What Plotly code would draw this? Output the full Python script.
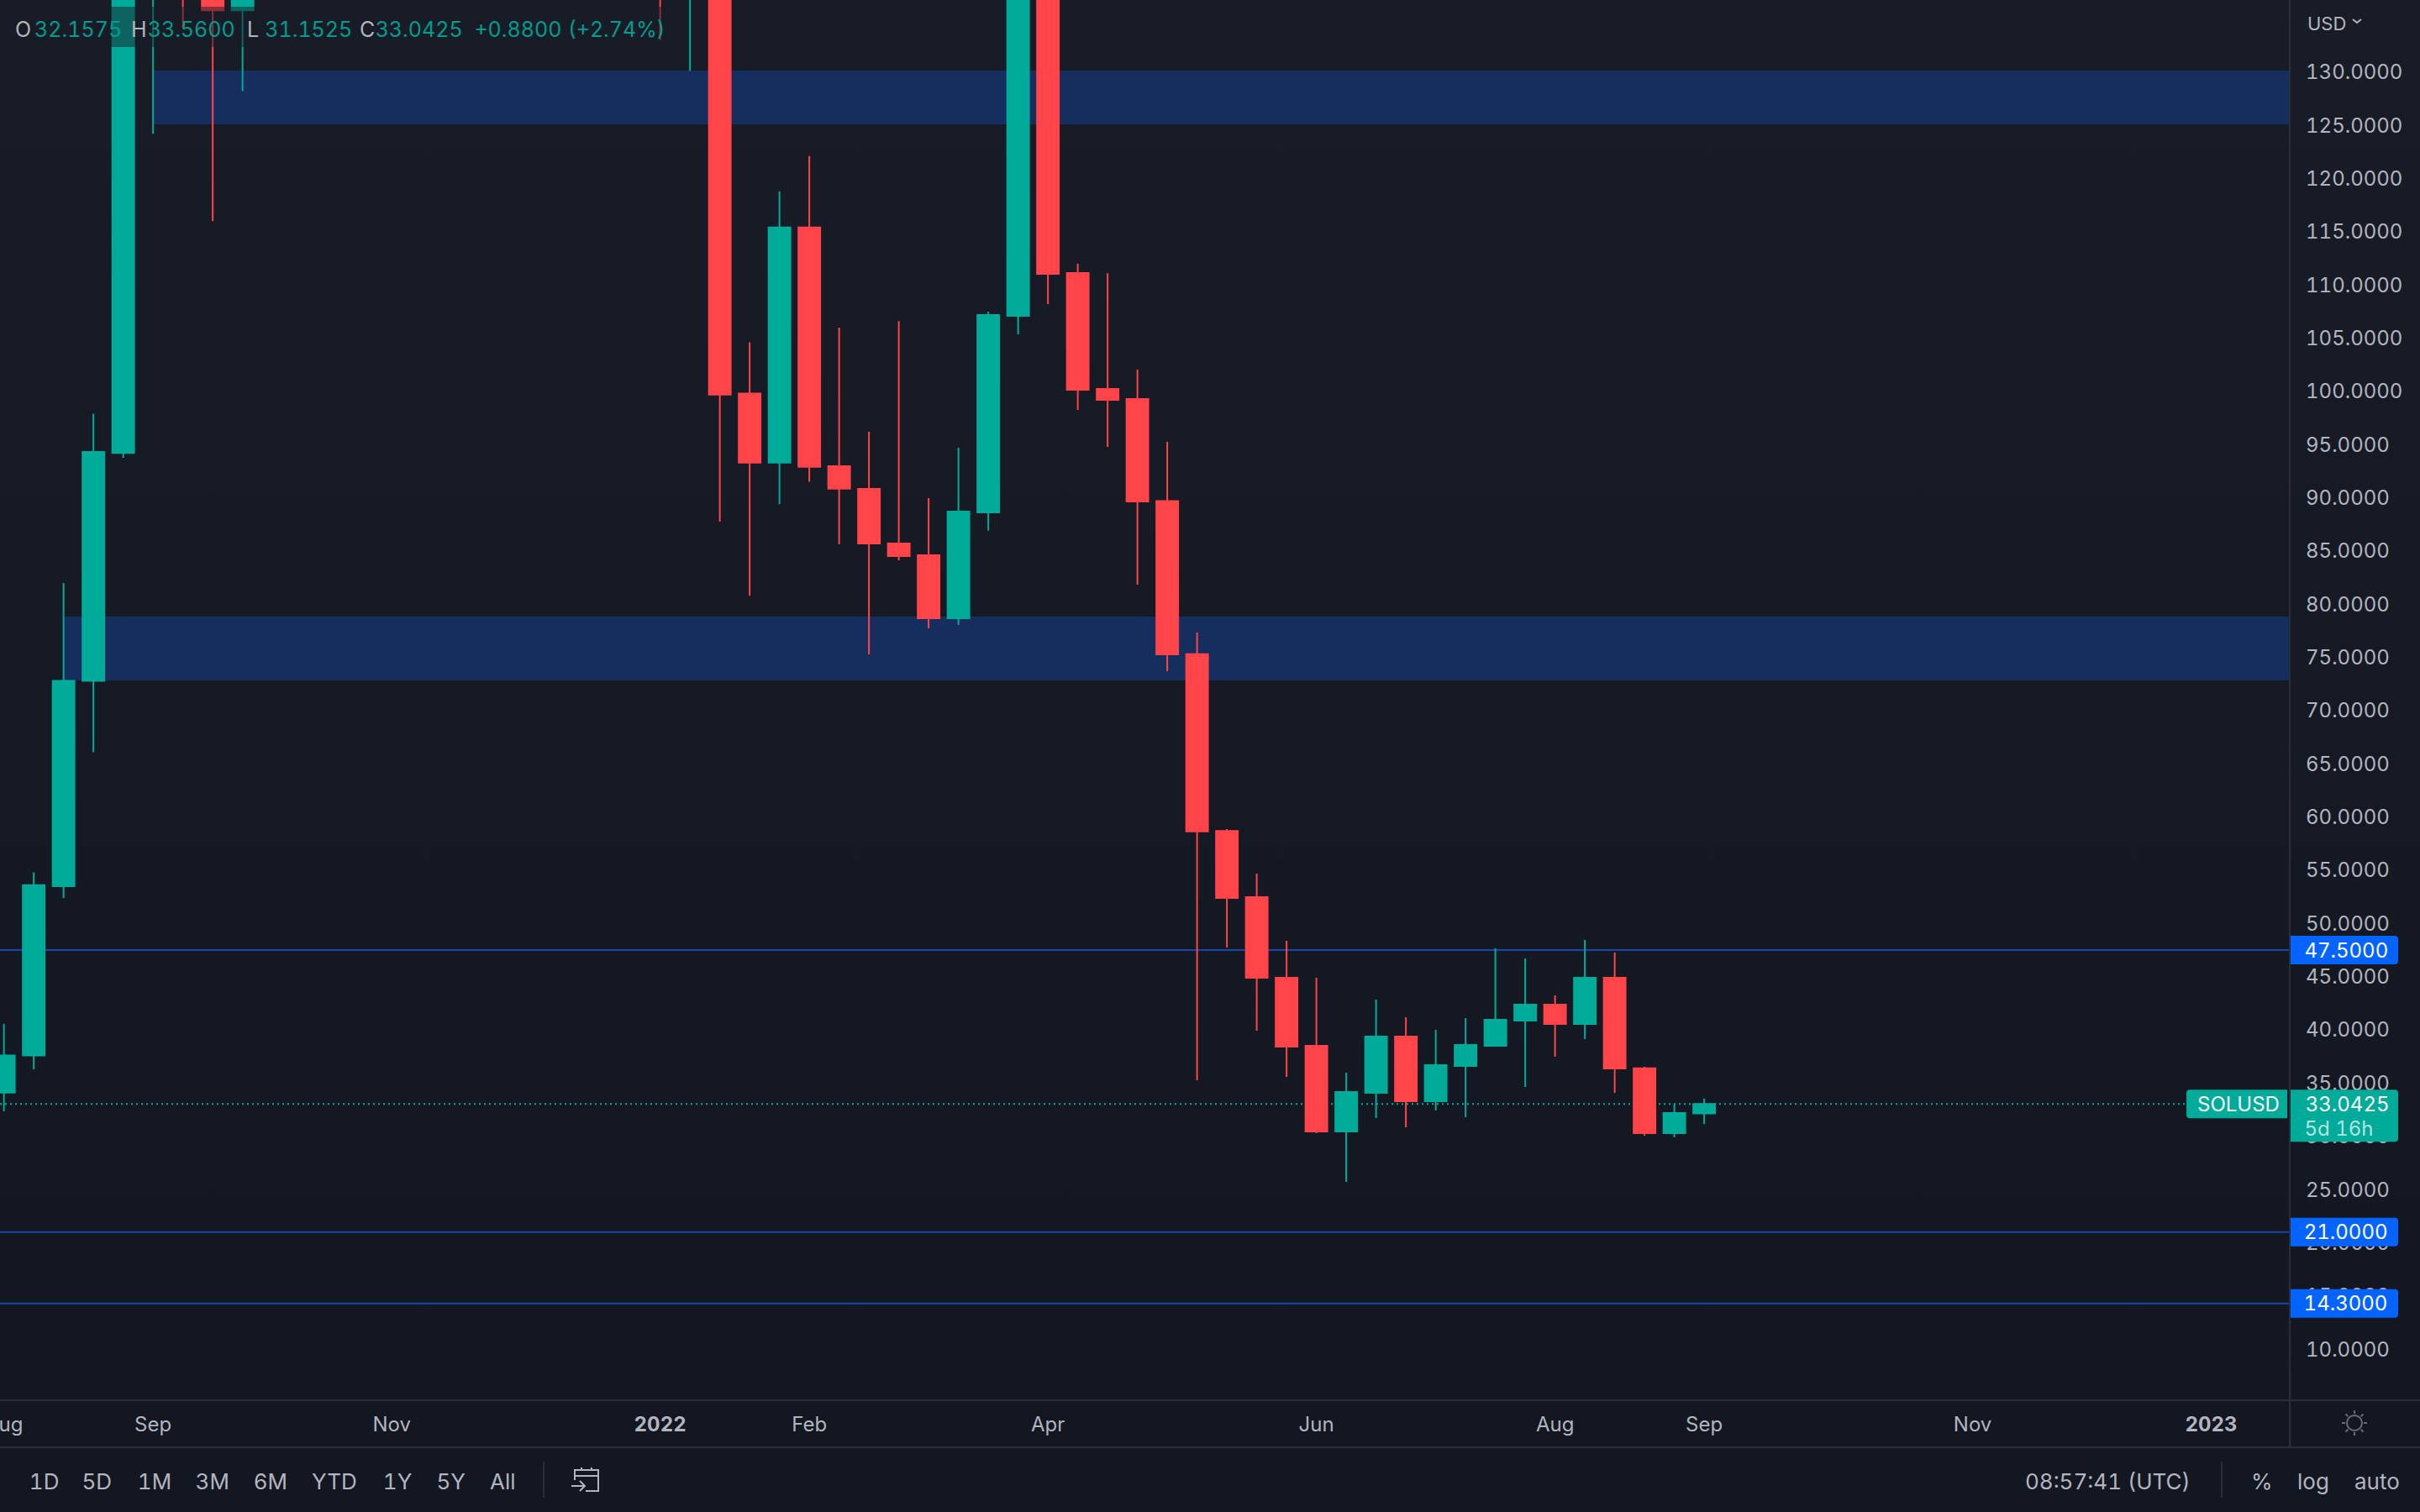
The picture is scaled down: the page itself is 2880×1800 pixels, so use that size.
import pandas as pd
import plotly.graph_objects as go

# ---------- data ----------
week_start = "2021-07-26"
n_weeks = 58
opens = [34.1, 37.6, 53.5, 72.8, 94.2, 142, 197, 170, 135.8, 160, 165, 158, 160, 190, 205, 240, 225, 205, 215, 190,
         180, 185, 172, 170, 176, 99.8, 93.3, 115.4, 92.96, 90.83, 85.7, 84.6, 78.68, 88.62, 107.1, 141, 111.12,
         100.22, 99.28, 89.7, 75.3, 58.7, 52.47, 44.9, 38.5, 30.45, 34.08, 39.37, 33.3, 36.61, 38.5, 40.87, 42.37,
         40.55, 44.9, 36.4, 30.3, 32.1575]
highs = [40.55, 54.8, 82.0, 97.9, 146, 216, 205, 190, 175, 176, 178, 172, 196, 218, 250, 260, 245, 240, 225, 210,
         200, 205, 190, 182, 178, 104.6, 118.8, 122.1, 105.98, 96.2, 106.6, 89.96, 94.7, 107.48, 144, 143, 111.98,
         111.1, 102.04, 95.25, 77.33, 58.87, 54.68, 48.37, 44.9, 35.98, 42.84, 41.19, 40.0, 41.11, 47.66, 46.71,
         43.24, 48.45, 47.26, 36.53, 33.06, 33.56]
lows = [32.35, 36.3, 52.4, 66.1, 93.75, 124.2, 134.2, 116.0, 128.2, 140, 150, 148, 155, 185, 195, 205, 190, 190, 165,
        170, 160, 165, 133, 130.1, 87.75, 80.8, 89.4, 91.5, 85.62, 75.28, 84.12, 77.73, 78.04, 86.9, 105.35, 108.2,
        98.25, 94.78, 81.83, 73.7, 35.27, 47.74, 39.92, 35.58, 30.3, 25.72, 31.71, 30.85, 32.43, 31.8, 38.45, 34.63,
        37.48, 39.13, 34.08, 30.06, 29.9, 31.1525]
closes = [37.6, 53.6, 72.8, 94.3, 142, 197, 170, 135.8, 160, 165, 158, 160, 190, 205, 240, 225, 205, 215, 190, 180,
          185, 172, 170, 176, 99.7, 93.3, 115.4, 92.9, 90.85, 85.7, 84.52, 78.68, 88.7, 107.17, 141, 111.04, 100.14,
          99.2, 89.65, 75.28, 58.65, 52.39, 44.9, 38.42, 30.45, 34.16, 39.37, 33.3, 36.69, 38.58, 40.95, 42.37, 40.55,
          44.9, 36.37, 30.3, 32.19, 33.0425]

x_tick_dates = ["2021-07-26", "2021-08-30", "2021-10-25", "2021-12-27", "2022-01-31", "2022-03-28", "2022-05-30",
                "2022-07-25", "2022-08-29", "2022-10-31", "2022-12-26"]
x_tick_labels = ["Aug", "Sep", "Nov", "<b>2022</b>", "Feb", "Apr", "Jun", "Aug", "Sep", "Nov", "<b>2023</b>"]
y_tick_values = list(range(10, 135, 5))
y_tick_labels = [f"{v:.4f}" for v in y_tick_values]

zone_upper = ("2021-08-30", 125.08, 130.14)
zone_lower = ("2021-08-09", 72.83, 78.83)
levels = [47.5, 21.0, 14.3]
last_price = 33.0425

legend_parts = [("O", 17, "k"), ("32.1575", 47, "v"), ("H", 155, "k"), ("33.5600", 177, "v"), ("L", 293, "k"),
                ("31.1525", 323, "v"), ("C", 427, "k"), ("33.0425", 448, "v"), ("+0.8800", 565, "v"),
                ("(+2.74%)", 678, "v")]
range_buttons = [("1D", 52), ("5D", 116), ("1M", 184), ("3M", 253), ("6M", 322), ("YTD", 398), ("1Y", 473),
                 ("5Y", 536), ("All", 598)]

# ---------- style ----------
W, H = 2725, 1667
Y_MIN, Y_MAX = 5.2, 136.77
X_RANGE = ["2021-07-25 02:00", "2023-01-13 10:00"]
GREEN, RED = "#00ab9a", "#ff444a"
BLUE_TAG, BLUE_LINE = "#0563ff", "#1a46ab"
ZONE = "#152e5e"
BORDER = "#2a2e39"
TEXT = "#b2b5be"
FONT = "Inter"
UNIT = H / (Y_MAX - Y_MIN)


def X(px):
    return px / W


def Y(py):
    return 1 - py / H


dates = pd.date_range(week_start, periods=n_weeks, freq="7D")

fig = go.Figure(go.Candlestick(
    x=dates, open=opens, high=highs, low=lows, close=closes,
    increasing=dict(line=dict(color=GREEN, width=2), fillcolor=GREEN),
    decreasing=dict(line=dict(color=RED, width=2), fillcolor=RED),
    whiskerwidth=0, showlegend=False, hoverinfo="skip",
))

shapes = []
for start, lo, hi in (zone_upper, zone_lower):
    shapes.append(dict(type="rect", xref="x", yref="y", x0=start, x1=X_RANGE[1], y0=lo, y1=hi,
                       fillcolor=ZONE, line=dict(width=0), layer="below"))
for lv in levels:
    shapes.append(dict(type="line", xref="paper", yref="y", x0=0, x1=1, y0=lv, y1=lv,
                       line=dict(color=BLUE_LINE, width=2), layer="below"))
shapes.append(dict(type="line", xref="paper", yref="y", x0=0, x1=X(2600), y0=last_price, y1=last_price,
                   line=dict(color=GREEN, width=2, dash="2px,4px"), layer="below"))
# legend strip, dims the candles behind the OHLC text
shapes.append(dict(type="rect", xref="paper", yref="paper", x0=X(8), x1=X(798), y0=Y(56), y1=Y(8),
                   fillcolor="rgba(23,27,38,0.5)", line=dict(width=0), layer="above"))


def tag(x0, x1, level, up, down, color, round_left=False, round_right=True):
    """Price-axis tag, located on the price scale by its level."""
    t, b = level + up / UNIT, level - down / UNIT
    xa, xb = X(x0), X(x1)
    r, ry = 4 / W, 4 / UNIT
    p = f"M{xa},{b}"
    if round_left:
        p = f"M{xa},{b + ry} L{xa},{t - ry} Q{xa},{t} {xa + r},{t}"
    else:
        p += f" L{xa},{t}"
    if round_right:
        p += f" L{xb - r},{t} Q{xb},{t} {xb},{t - ry} L{xb},{b + ry} Q{xb},{b} {xb - r},{b}"
    else:
        p += f" L{xb},{t} L{xb},{b}"
    if round_left:
        p += f" L{xa + r},{b} Q{xa},{b} {xa},{b + ry}"
    p += " Z"
    shapes.append(dict(type="path", path=p, xref="paper", yref="y", fillcolor=color,
                       line=dict(width=0), layer="above"))


for lv in levels:
    tag(2724, 2854, lv, 17, 17, BLUE_TAG)
tag(2724, 2854, last_price, 17, 45, GREEN)
tag(2602, 2722, last_price, 17, 17, GREEN, round_left=True, round_right=False)


def pline(x0, y0, x1, y1, color=BORDER, width=2):
    shapes.append(dict(type="line", xref="paper", yref="paper", x0=X(x0), x1=X(x1), y0=Y(y0), y1=Y(y1),
                       line=dict(color=color, width=width), layer="above"))


pline(0, 1667, 2880, 1667)
pline(0, 1723, 2880, 1723)
pline(2725, 0, 2725, 1723)
pline(647, 1740, 647, 1783)
pline(2644, 1740, 2644, 1783)


def ppath(points, color, width=2, close=False):
    p = "M" + " L".join(f"{X(a)},{Y(b)}" for a, b in points) + (" Z" if close else "")
    shapes.append(dict(type="path", path=p, xref="paper", yref="paper", line=dict(color=color, width=width),
                       layer="above"))


# USD chevron
ppath([(2800, 23), (2805, 27), (2810, 23)], TEXT)
# calendar icon
ppath([(684, 1762), (684, 1750), (712, 1750), (712, 1775), (697, 1775)], TEXT)
pline(684, 1757, 712, 1757, TEXT)
pline(692, 1747, 692, 1751, TEXT)
pline(704, 1747, 704, 1751, TEXT)
ppath([(680, 1769), (696, 1769)], TEXT)
ppath([(690, 1763), (696, 1769), (690, 1775)], TEXT)
# sun icon
SUN = "#6a6d78"
cx, cy = 2802, 1694
shapes.append(dict(type="circle", xref="paper", yref="paper", x0=X(cx - 9), x1=X(cx + 9), y0=Y(cy + 9), y1=Y(cy - 9),
                   line=dict(color=SUN, width=2), layer="above"))
for dx, dy in [(0, 1), (0, -1), (1, 0), (-1, 0), (.7, .7), (-.7, .7), (.7, -.7), (-.7, -.7)]:
    pline(cx + dx * 11, cy + dy * 11, cx + dx * 15, cy + dy * 15, SUN)


ann = []


def txt(s, px, py, size=24, color=TEXT, anchor="left"):
    ann.append(dict(text=s, xref="paper", yref="paper", x=X(px), y=Y(py), xanchor=anchor, yanchor="middle",
                    showarrow=False, borderpad=0, font=dict(family=FONT, size=size, color=color)))


for s, px, kind in legend_parts:
    txt(s, px, 35, 25, TEXT if kind == "k" else "#009d8f")
for s, px in range_buttons:
    txt(s, px, 1763, 26, TEXT, "center")
txt("08:57:41 (UTC)", 2508, 1763, 26, TEXT, "center")
txt("%", 2692, 1763, 26, TEXT, "center")
txt("log", 2753, 1763, 26, TEXT, "center")
txt("auto", 2829, 1763, 26, TEXT, "center")
txt("USD", 2745, 28, 22, TEXT)


def level_txt(s, px, level, dy=0, color="#ffffff"):
    ann.append(dict(text=s, xref="paper", yref="y", x=X(px), y=level, yshift=-dy, xanchor="left", yanchor="middle",
                    showarrow=False, borderpad=0, font=dict(family=FONT, size=24, color=color)))


for lv in levels:
    level_txt(f"{lv:.4f}", 2745, lv)
level_txt(f"{last_price:.4f}", 2745, last_price)
level_txt("5d 16h", 2745, last_price, 29, "rgba(255,255,255,0.7)")
level_txt("SOLUSD", 2614, last_price, 0)

fig.update_layout(
    width=2880, height=1800,
    margin=dict(l=0, r=2880 - W, t=0, b=1800 - H, pad=0, autoexpand=False),
    paper_bgcolor="rgba(0,0,0,0)", plot_bgcolor="rgba(0,0,0,0)",
    boxgap=0.27, boxgroupgap=0, showlegend=False,
    font=dict(family=FONT, color=TEXT),
    shapes=shapes, annotations=ann, dragmode=False,
    xaxis=dict(type="date", range=X_RANGE, rangeslider=dict(visible=False), showgrid=False, zeroline=False,
               showline=False, tickmode="array", tickvals=x_tick_dates, ticktext=x_tick_labels, ticks="",
               tickangle=0, ticklabelstandoff=12, ticklabeloverflow="allow", tickfont=dict(family=FONT, size=24, color=TEXT)),
    yaxis=dict(side="right", range=[Y_MIN, Y_MAX], showgrid=False, zeroline=False, showline=False,
               tickmode="array", tickvals=y_tick_values, ticktext=y_tick_labels, ticks="",
               ticklabelstandoff=18, ticklabeloverflow="allow", tickfont=dict(family=FONT, size=24, color=TEXT)),
)

post = """
document.documentElement.style.background = 'linear-gradient(#181c27 0px, #131722 1667px, #131722 100%)';
document.documentElement.style.height = '100%';
document.documentElement.style.overflow = 'hidden';
document.body.style.margin = '0';
document.body.style.background = 'transparent';
var st = document.createElement('style');
st.textContent = 'svg text { font-variant-numeric: tabular-nums; font-feature-settings: "tnum" 1; }';
document.head.appendChild(st);
"""
fig.write_html("out.html", config=dict(displayModeBar=False), post_script=post)
